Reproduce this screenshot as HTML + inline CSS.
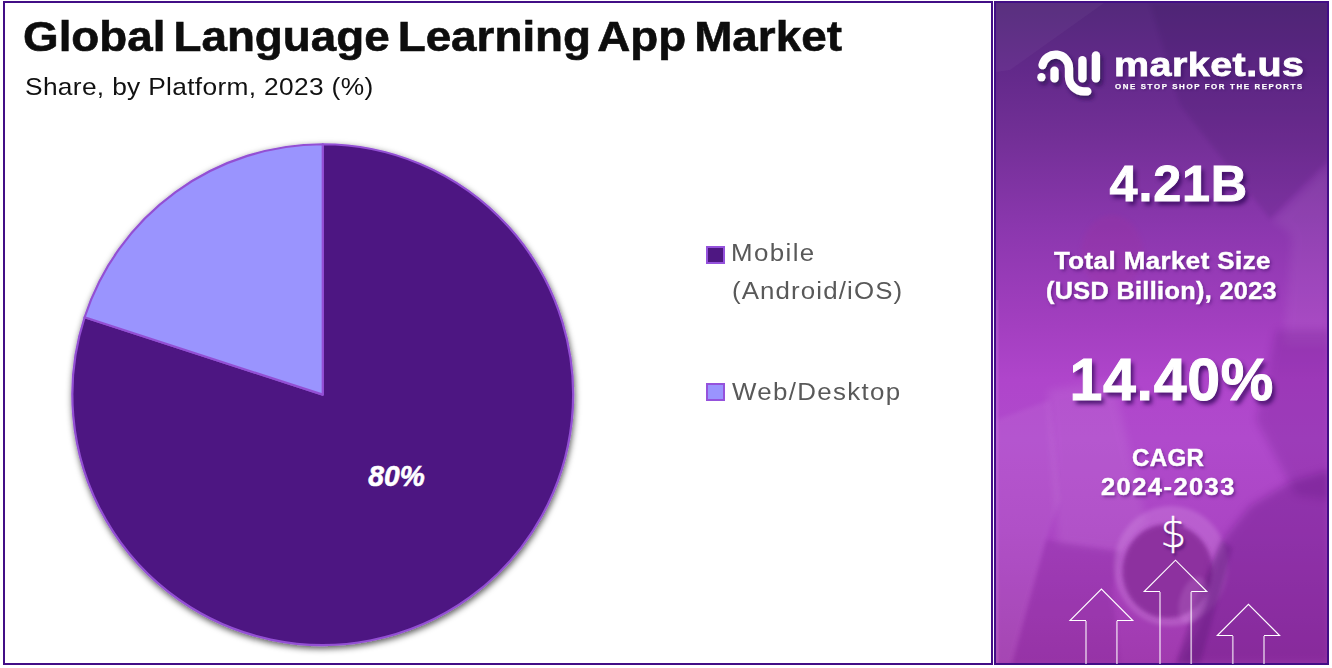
<!DOCTYPE html>
<html lang="en">
<head>
<meta charset="utf-8">
<title>Global Language Learning App Market</title>
<style>
  html, body { margin: 0; padding: 0; }
  body {
    width: 1332px; height: 668px; overflow: hidden; position: relative;
    background: #ffffff;
    font-family: "Liberation Sans", sans-serif;
  }
  .panel { position: absolute; box-sizing: border-box; border: 2px solid #420e86; overflow: hidden; }
  #left  { left: 3px;   top: 1px; width: 990px; height: 664px; background: #ffffff; }
  #right { left: 994px; top: 1px; width: 335px; height: 664px; background: #8a37ad; }

  /* all text: absolutely positioned, single line, stretched to the width of the original face */
  .t { position: absolute; white-space: nowrap; line-height: 1; margin: 0; transform-origin: 0 0; }

  #title    { left: 23.1px; top: 15.1px; font-size: 42.6px; font-weight: bold; color: #0d0d0d; letter-spacing: 0; word-spacing: -4.5px; transform: scaleX(1.0755); -webkit-text-stroke: 0.6px #0d0d0d; }
  #subtitle { left: 25px; top: 75px; font-size: 24.2px; color: #111111; letter-spacing: 0.3px; transform: scaleX(1.088); }

  .leg { color: #595959; font-size: 23.1px; }
  #leg1a { left: 730.5px; top: 242.3px; letter-spacing: 1.25px; transform: scaleX(1.12); }
  #leg1b { left: 731.6px; top: 280.3px; letter-spacing: 1.0px; transform: scaleX(1.12); }
  #leg2  { left: 731.5px; top: 380.5px; letter-spacing: 1.2px; transform: scaleX(1.12); }
  .sw { position: absolute; box-sizing: border-box; width: 18.8px; height: 18px; border: 2px solid #9552dc; }
  #sw1 { left: 706.3px; top: 246px;   background: #4e1782; }
  #sw2 { left: 706.3px; top: 383px; background: #9a94fe; }

  .w { color: #ffffff; font-weight: bold; text-shadow: 3px 3.5px 4px rgba(50, 8, 90, 0.8); }
  #big1 { left: 1109.6px; top: 158.8px; font-size: 50.4px; letter-spacing: 0.8px; -webkit-text-stroke: 0.9px #ffffff; }
  #big2 { left: 1069.6px; top: 349.8px; font-size: 59.1px; letter-spacing: 0.65px; -webkit-text-stroke: 1px #ffffff; }
  .cap { font-size: 23.2px; text-shadow: 1.5px 2px 3px rgba(58, 10, 96, 0.55); -webkit-text-stroke: 0.45px #ffffff; }
  #cap1a { left: 1054.2px; top: 249.8px; letter-spacing: 0.4px;  transform: scaleX(1.115); }
  #cap1b { left: 1046.4px; top: 279.5px; letter-spacing: 0.3px; transform: scaleX(1.09); }
  #cap2a { left: 1131.6px; top: 446.6px; letter-spacing: 0.3px;  transform: scaleX(1.04); }
  #cap2b { left: 1100.8px; top: 475.8px; letter-spacing: 1.3px;  transform: scaleX(1.10); }

  #brand   { left: 1113.8px; top: 47.2px; font-size: 34px; letter-spacing: 0.4px; transform: scaleX(1.16); -webkit-text-stroke: 0.8px #ffffff; text-shadow: 2px 3px 4px rgba(50, 10, 90, 0.6); }
  #tagline { left: 1114.9px; top: 83.1px; font-size: 7.3px; letter-spacing: 1.5px; transform: scaleX(1.08); -webkit-text-stroke: 0.25px #ffffff; text-shadow: 1px 1px 2px rgba(50, 10, 90, 0.5); }
  #dollar  { left: 1160.2px; top: 513px; font-family: "DejaVu Sans", "Liberation Sans", sans-serif; font-size: 41px; font-weight: 200; -webkit-text-stroke: 0.35px #ffffff; text-shadow: 2px 3px 3px rgba(58, 10, 96, 0.7); }

  svg { position: absolute; left: 0; top: 0; }
</style>
</head>
<body>

<div class="panel" id="left"></div>
<div class="panel" id="right">
  <!-- purple wash with faint desk-photo shapes underneath -->
  <svg id="bg" width="331" height="660" viewBox="996 3 331 660" preserveAspectRatio="none">
    <defs>
      <linearGradient id="wash" x1="0" y1="0" x2="0" y2="1">
        <stop offset="0"    stop-color="#54297b"/>
        <stop offset="0.10" stop-color="#62298a"/>
        <stop offset="0.20" stop-color="#722f96"/>
        <stop offset="0.34" stop-color="#8b37ae"/>
        <stop offset="0.49" stop-color="#a33fc0"/>
        <stop offset="0.57" stop-color="#af45cb"/>
        <stop offset="0.66" stop-color="#b04acc"/>
        <stop offset="0.80" stop-color="#ab45c4"/>
        <stop offset="1"    stop-color="#a03aae"/>
      </linearGradient>
      <filter id="b2"><feGaussianBlur stdDeviation="2"/></filter>
      <filter id="b4"><feGaussianBlur stdDeviation="4"/></filter>
      <filter id="b8"><feGaussianBlur stdDeviation="8"/></filter>
    </defs>
    <rect x="996" y="3" width="331" height="660" fill="url(#wash)"/>
    <!-- top: tilted sheets of paper -->
    <polygon points="996,3 1104,3 1010,70 996,72" fill="#ffffff" opacity="0.035"/>
    <polygon points="1150,3 1330,3 1330,158 1270,219 1180,105" fill="#2a0a50" opacity="0.12" filter="url(#b2)"/>
    <!-- tablet on the right -->
    <path d="M1272,222 L1330,166 L1330,345 L1283,345 L1292,240 Q1290,228 1272,222 Z" fill="#ffffff" opacity="0.055" filter="url(#b4)"/>
    <!-- small pie chart on the sheet -->
    <ellipse cx="1112" cy="253" rx="31" ry="38" fill="#a0309c" opacity="0.22" filter="url(#b2)"/>
    <!-- forearm -->
    <polygon points="1048,390 1113,380 1146,520 1121,552 1058,545" fill="#ffffff" opacity="0.07" filter="url(#b4)"/>
    <polygon points="1046,540 1121,552 1112,590 1120,664 1012,664" fill="#6a1282" opacity="0.17" filter="url(#b2)"/>
    <polygon points="996,420 1050,400 1060,500 1046,540 1012,664 996,664" fill="#ffffff" opacity="0.06" filter="url(#b2)"/>
    <rect x="996" y="300" width="2.6" height="363" fill="#ffffff" opacity="0.09"/>
    <!-- right edge shade -->
    <polygon points="1276,330 1330,330 1330,500 1296,495 1256,420" fill="#5a1078" opacity="0.22" filter="url(#b4)"/>
    <!-- coffee cup -->
    <ellipse cx="1171" cy="566" rx="57" ry="60" fill="#e7b0f2" opacity="0.24" filter="url(#b2)"/>
    <ellipse cx="1167.5" cy="571" rx="45" ry="47" fill="#8a2d9c" opacity="0.92" filter="url(#b2)"/>
    <!-- dark sleeve / glasses -->
    <polygon points="1330,470 1290,482 1250,506 1226,536 1213,562 1206,600 1196,630 1178,664 1330,664" fill="#5a1078" opacity="0.34" filter="url(#b4)"/>
    <polygon points="1222,540 1232,548 1200,664 1176,664 1196,600" fill="#4a0a68" opacity="0.25" filter="url(#b2)"/>
    <ellipse cx="1193" cy="600" rx="13" ry="24" transform="rotate(18 1193 600)" fill="#e7b0f2" opacity="0.16" filter="url(#b2)"/>
  </svg>
</div>

<!-- pie chart -->
<svg id="pie" width="1332" height="668" viewBox="0 0 1332 668">
  <defs>
    <filter id="pshadow" x="-10%" y="-10%" width="120%" height="120%">
      <feDropShadow dx="0.8" dy="2.4" stdDeviation="3.1" flood-color="#000000" flood-opacity="0.66"/>
    </filter>
  </defs>
  <g filter="url(#pshadow)" stroke="#9350d4" stroke-width="2.2" stroke-linejoin="round">
    <!-- 80% : clockwise from 12 o'clock through 288deg -->
    <path d="M322.75,394.65 L322.75,144.25 A250.4,250.4 0 1 1 84.61,317.27 Z" fill="#4e1782"/>
    <!-- 20% -->
    <path d="M322.75,394.65 L84.61,317.27 A250.4,250.4 0 0 1 322.75,144.25 Z" fill="#9a94fe"/>
  </g>
  <text x="396.5" y="486.3" text-anchor="middle" font-family="Liberation Sans, sans-serif" font-weight="bold" font-style="italic" font-size="29.4" fill="#ffffff" stroke="#ffffff" stroke-width="0.6" textLength="56.4" lengthAdjust="spacingAndGlyphs">80%</text>
</svg>

<!-- logo mark + growth arrows -->
<svg id="deco" width="1332" height="668" viewBox="0 0 1332 668">
  <defs>
    <filter id="lshadow" x="-20%" y="-20%" width="150%" height="150%">
      <feDropShadow dx="2.5" dy="3.5" stdDeviation="2.2" flood-color="#2a0850" flood-opacity="0.75"/>
    </filter>
  </defs>
  <g filter="url(#lshadow)" fill="none" stroke="#ffffff" stroke-width="8.3" stroke-linecap="round" stroke-linejoin="round">
    <path d="M1042.5,65.2 A13.4,13.4 0 0 1 1069,68.3 L1069,76.4 A15,15 0 0 0 1084,91.4 L1087.3,91.4"/>
    <path d="M1041.4,77.2 L1041.4,77.21"/>
    <path d="M1054.5,70.6 L1054.5,78.4"/>
    <path d="M1082.4,60.1 L1082.4,78.4"/>
    <path d="M1095.9,55.4 L1095.9,78.4"/>
  </g>
  <g fill="none" stroke="#ffffff" stroke-width="1.1" stroke-linejoin="miter">
    <path d="M1086,620.5 L1070,620.5 L1101.4,589.1 L1132.8,620.5 L1116.9,620.5"/>
    <path d="M1160,591.5 L1144.2,591.5 L1175.5,560.2 L1206.8,591.5 L1191.2,591.5"/>
    <path d="M1232.8,635.5 L1217.3,635.5 L1248.45,604.35 L1279.6,635.5 L1264,635.5"/>
  </g>
  <g fill="none" stroke="#ffffff" stroke-width="1.7" opacity="0.62">
    <path d="M1086,621 V664 M1116.9,621 V664"/>
    <path d="M1160,592 V664 M1191.2,592 V664"/>
    <path d="M1232.8,636 V664 M1264,636 V664"/>
  </g>
</svg>

<h1 class="t" id="title">Global Language Learning App Market</h1>
<p class="t" id="subtitle">Share, by Platform, 2023 (%)</p>

<span class="sw" id="sw1"></span>
<span class="t leg" id="leg1a">Mobile</span>
<span class="t leg" id="leg1b">(Android/iOS)</span>
<span class="sw" id="sw2"></span>
<span class="t leg" id="leg2">Web/Desktop</span>

<span class="t w" id="brand">market.us</span>
<span class="t w" id="tagline">ONE STOP SHOP FOR THE REPORTS</span>
<span class="t w" id="big1">4.21B</span>
<span class="t w cap" id="cap1a">Total Market Size</span>
<span class="t w cap" id="cap1b">(USD Billion), 2023</span>
<span class="t w" id="big2">14.40%</span>
<span class="t w cap" id="cap2a">CAGR</span>
<span class="t w cap" id="cap2b">2024-2033</span>
<span class="t w" id="dollar">$</span>

</body>
</html>
